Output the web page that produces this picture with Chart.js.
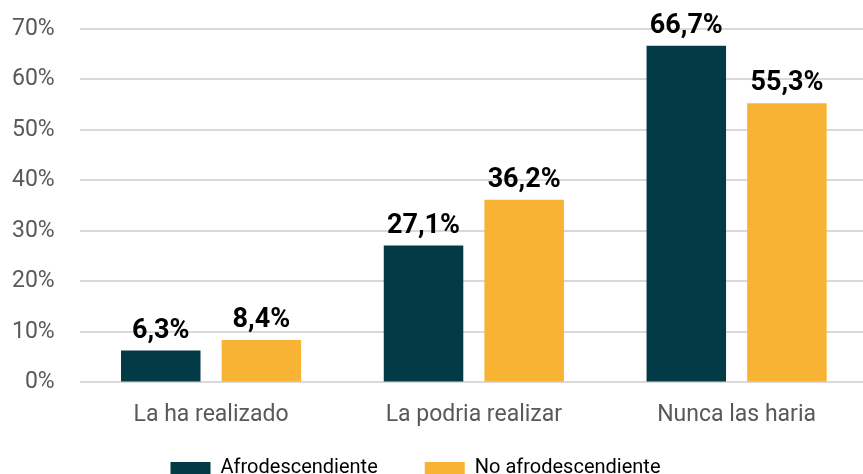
<!DOCTYPE html>
<html>
<head>
<meta charset="utf-8">
<script src="https://cdn.jsdelivr.net/npm/chart.js@4/dist/chart.umd.min.js"></script>
<style>
	html, body { margin: 0; padding: 0; background: #fff; overflow: hidden; }
	#wrap { width: 863px; height: 474px; overflow: hidden; }
</style>
</head>
<body>
<div id="wrap"><canvas id="chart" width="868" height="517"></canvas></div>
<script>
const categories = ['La ha realizado', 'La podria realizar', 'Nunca las haria'];
const afro = [6.3, 27.1, 66.7];
const noAfro = [8.4, 36.2, 55.3];
const yTicks = [0, 10, 20, 30, 40, 50, 60, 70];

const fmt = (v) => v.toFixed(1).replace('.', ',') + '%';

// draws the value on top of every bar
const barLabels = {
	id: 'barLabels',
	afterDatasetsDraw(chart) {
		const ctx = chart.ctx;
		ctx.save();
		ctx.font = 'bold 27px Roboto';
		ctx.fillStyle = '#000';
		ctx.textAlign = 'center';
		ctx.textBaseline = 'alphabetic';
		chart.data.datasets.forEach((ds, i) => {
			chart.getDatasetMeta(i).data.forEach((bar, j) => {
				ctx.fillText(fmt(ds.data[j]), bar.x, bar.y - 13);
			});
		});
		ctx.restore();
	}
};

// nudge the legend to where it sits in the original
const legendShift = {
	id: 'legendShift',
	afterLayout(chart) {
		const lg = chart.legend;
		lg.top -= 29; lg.bottom -= 29;
		lg.left -= 24; lg.right -= 24;
	}
};

function main() {
	new Chart(document.getElementById('chart'), {
		type: 'bar',
		data: {
			labels: categories,
			datasets: [
				{ label: 'Afrodescendiente', data: afro, backgroundColor: '#023a45' },
				{ label: 'No afrodescendiente', data: noAfro, backgroundColor: '#f8b334' }
			]
		},
		options: {
			responsive: false,
			animation: false,
			categoryPercentage: 0.766,
			barPercentage: 0.79,
			layout: { padding: { left: 11, top: 29, right: 0, bottom: 0 } },
			scales: {
				x: {
					afterFit(s) { s.paddingLeft = 0; s.paddingRight = 0; },
					grid: { display: false },
					border: { display: false },
					ticks: { color: '#595959', font: { family: 'Roboto', size: 23 }, padding: 11 }
				},
				y: {
					min: 0,
					max: 70,
					// padding is counted twice in the axis width, take one off
					afterFit(s) { s.width -= 24; s.paddingTop = 0; s.paddingBottom = 0; },
					afterBuildTicks(axis) { axis.ticks = yTicks.map(v => ({ value: v })); },
					grid: { color: '#d9d9d9', lineWidth: 2, drawTicks: false },
					border: { display: false },
					ticks: {
						color: '#595959',
						font: { family: 'Roboto', size: 23 },
						padding: 25,
						callback: (v) => v + '%'
					}
				}
			},
			plugins: {
				legend: {
					position: 'bottom',
					labels: {
						boxWidth: 40,
						boxHeight: 12,
						color: '#000',
						padding: 47,
						font: { family: 'Roboto', size: 20 }
					}
				},
				tooltip: { enabled: false }
			}
		},
		plugins: [barLabels, legendShift]
	});
}

document.addEventListener('DOMContentLoaded', main);
</script>
</body>
</html>
